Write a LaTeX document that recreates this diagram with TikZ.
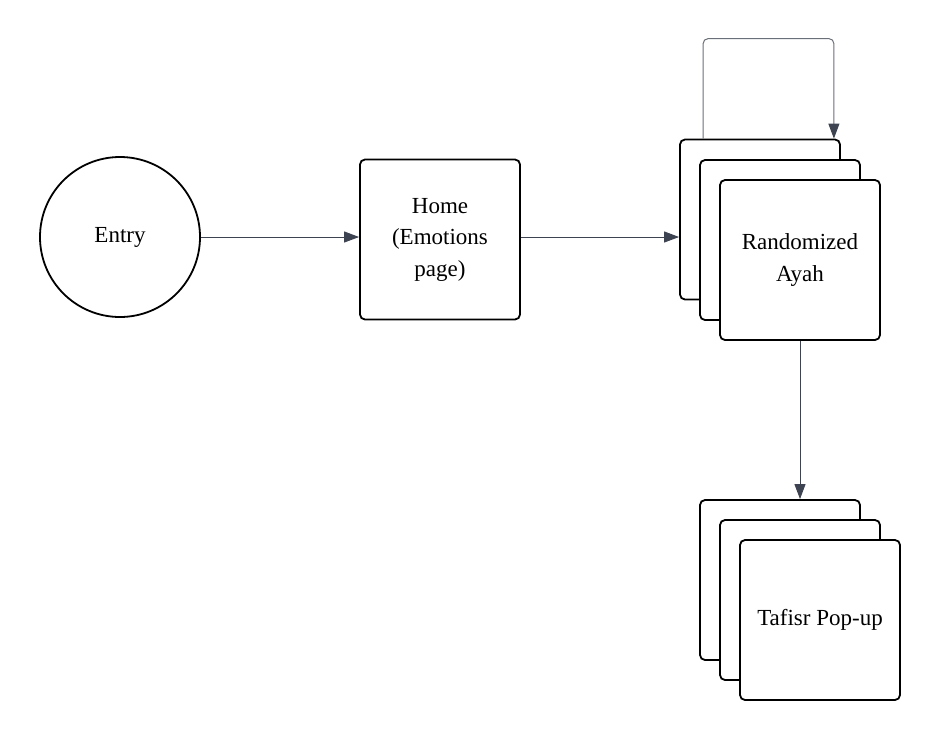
\documentclass[tikz,border=0pt]{standalone}
\usepackage{fontspec}
\setmainfont{Liberation Serif}
\usetikzlibrary{arrows.meta}
\definecolor{arrowgray}{HTML}{3D4350}
\definecolor{loopgray}{HTML}{6B6F78}
\begin{document}
\begin{tikzpicture}[x=1pt,y=-1pt,
  card/.style={draw=black,line width=1.8pt,fill=white,rounded corners=5pt,
    minimum width=160pt,minimum height=160pt,inner sep=0pt,align=center,
    font=\fontsize{23}{31.5}\selectfont},
  startnode/.style={draw=black,line width=1.8pt,circle,minimum size=160pt,
    inner sep=0pt,font=\fontsize{23}{31.5}\selectfont},
  flow/.style={draw=arrowgray,line width=1pt,-{Triangle[length=15pt,width=11pt]}},
  loopflow/.style={draw=loopgray,line width=1pt,rounded corners=5pt,
    -{Triangle[length=15pt,width=11pt,color=arrowgray]}}]
\useasboundingbox (0,0) rectangle (940,740);
\node[startnode] (entry) at (120,237) {Entry};
\node[card] (home) at (440,239.5) {Home\\(Emotions\\page)};
\node[card] (ra1) at (760,219.5) {};
\node[card] (ra2) at (780,240) {};
\node[card] (ra3) at (800,260) {Randomized\\Ayah};
\node[card] (ta1) at (780,580) {};
\node[card] (ta2) at (800,600) {};
\node[card] (ta3) at (820,620) {Tafisr Pop-up};
\draw[flow] (entry.east) -- (entry.east -| home.west);
\draw[flow] (home.east |- entry.east) -- (entry.east -| ra1.west);
\coordinate (loopa) at ([xshift=24pt]ra1.north west);
\coordinate (loopb) at ([xshift=-7pt]ra1.north east);
\draw[loopflow] (loopa) -- ++(0,-100) -| (loopb);
\draw[flow] (ra3.south) -- (ra3.south |- ta1.north);
\end{tikzpicture}
\end{document}
